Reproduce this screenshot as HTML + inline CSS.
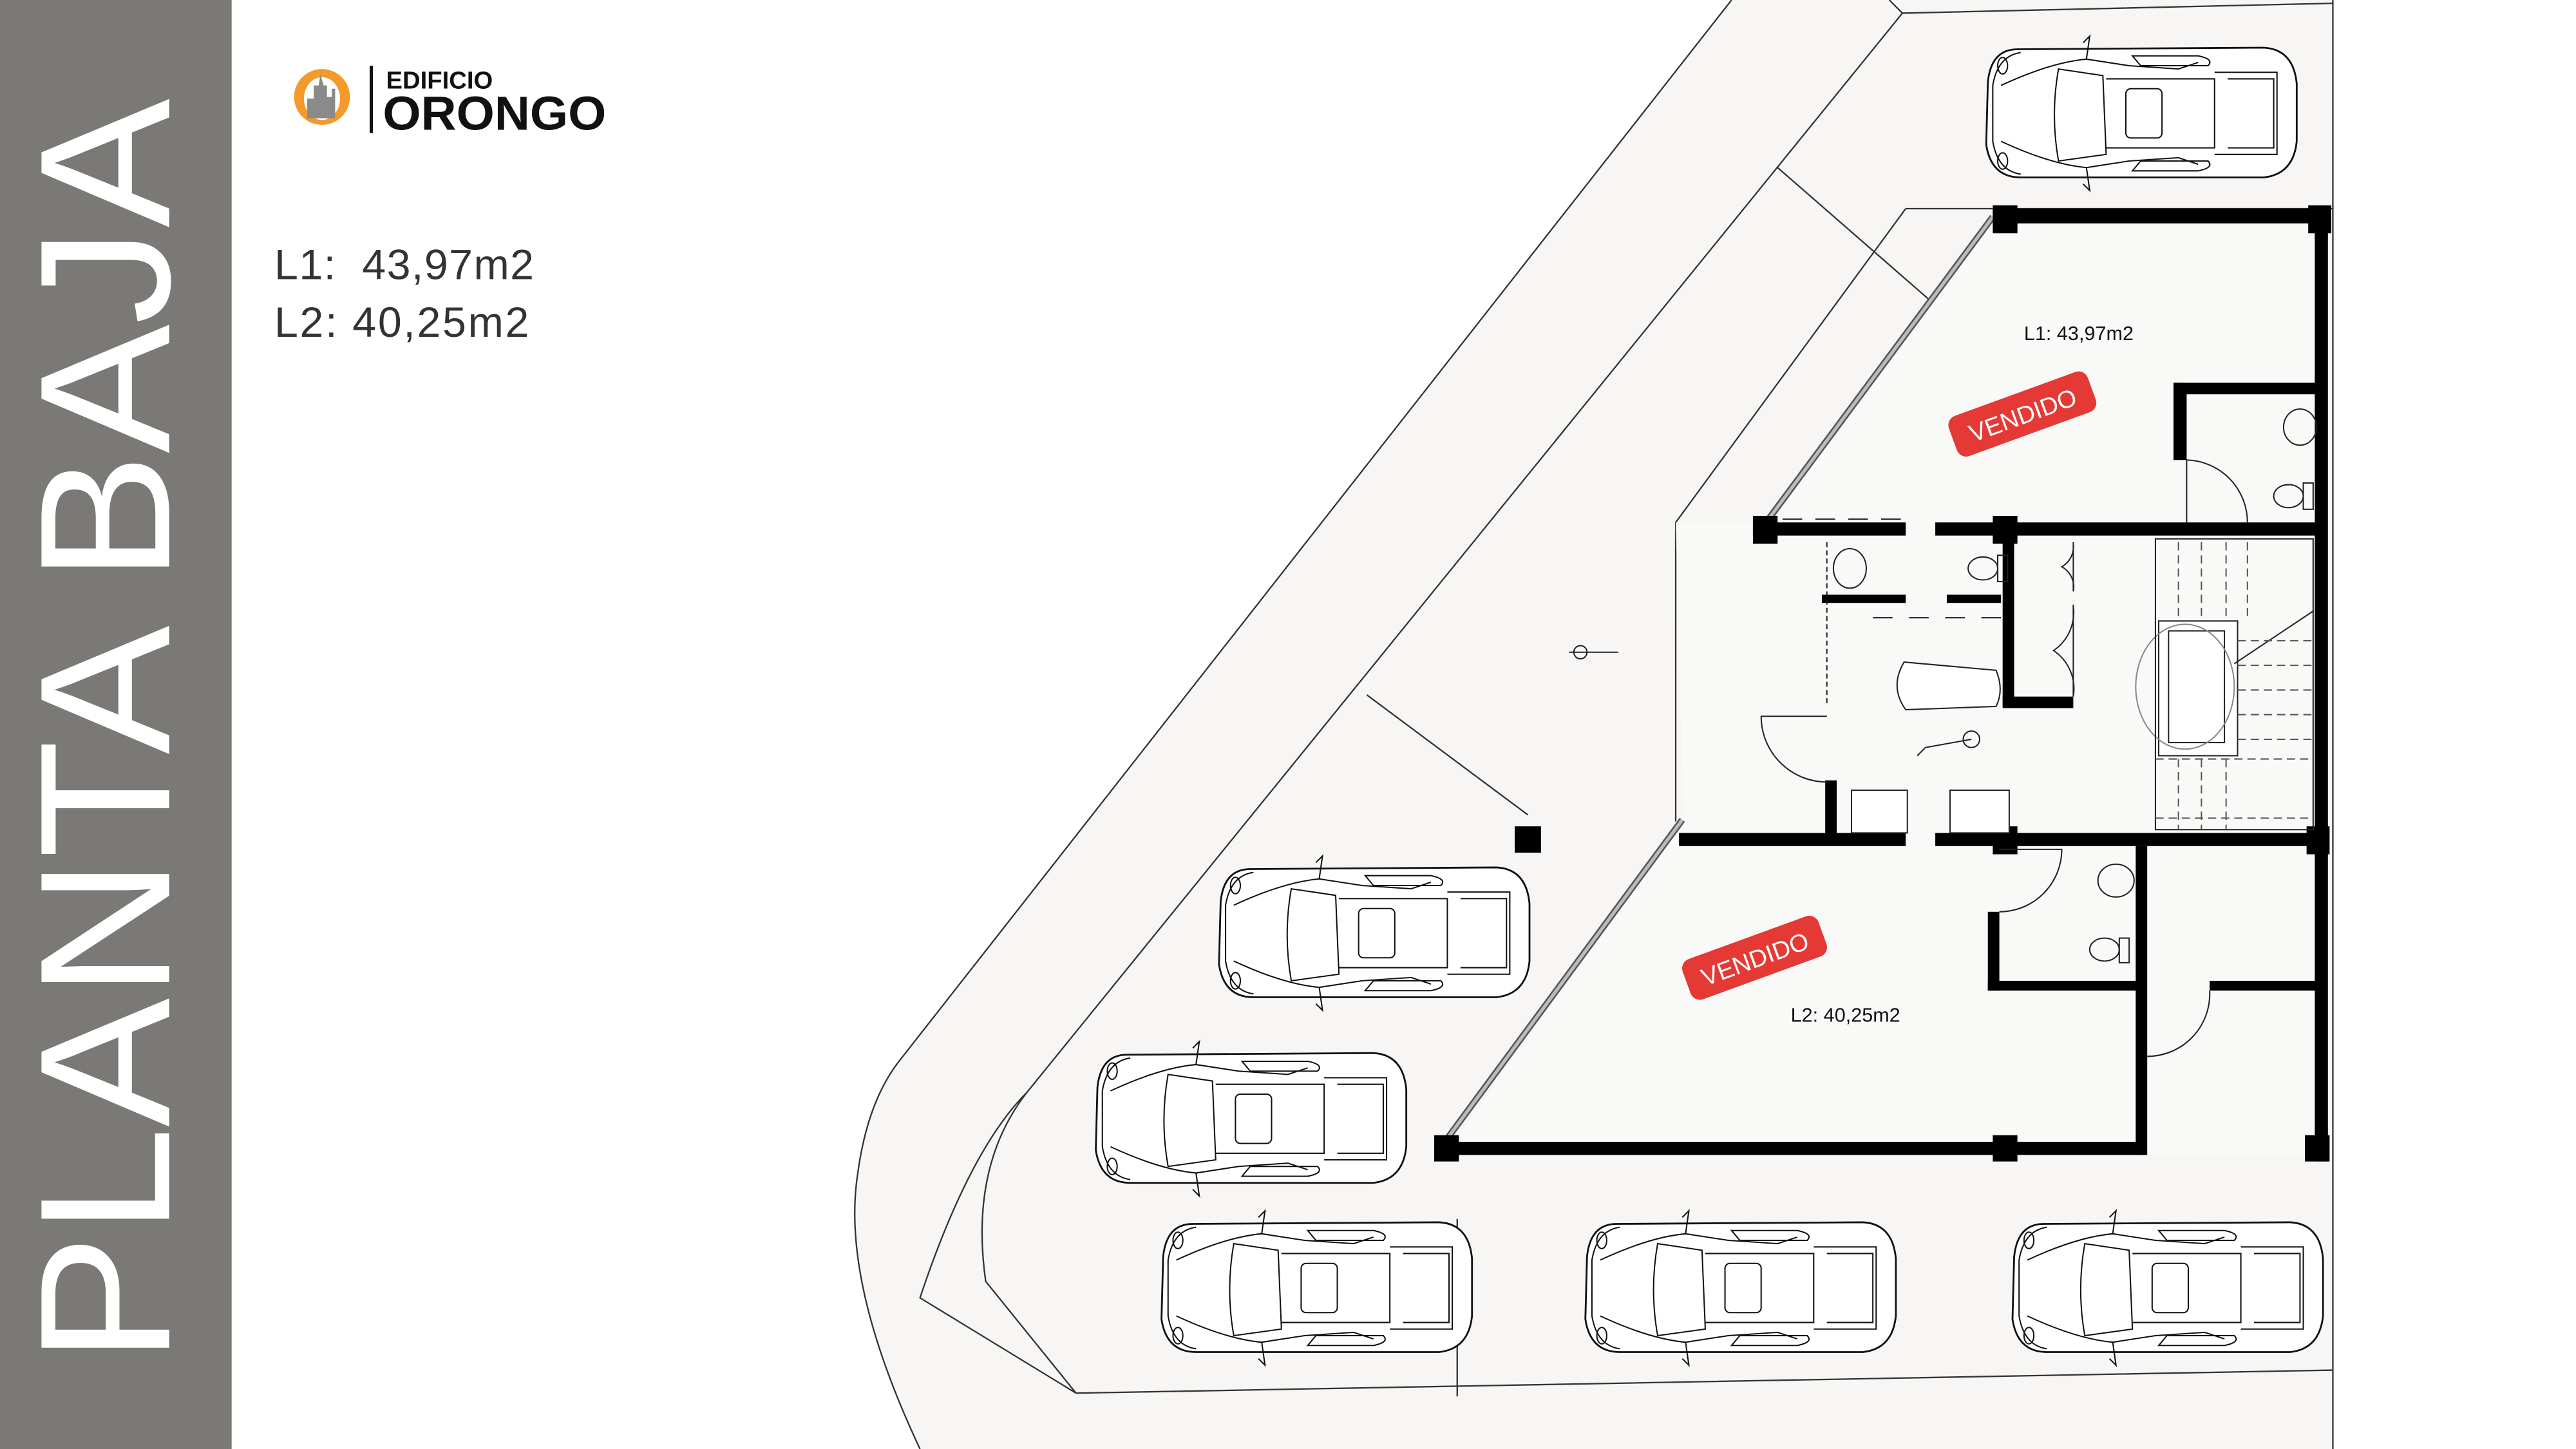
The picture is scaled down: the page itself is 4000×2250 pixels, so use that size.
<!DOCTYPE html>
<html><head><meta charset="utf-8"><style>
html,body{margin:0;padding:0;background:#fff}
svg{display:block}
</style></head><body>
<svg width="4000" height="2250" viewBox="0 0 1568 882" xmlns="http://www.w3.org/2000/svg" font-family="Liberation Sans, sans-serif">
<defs>
<g id="car" fill="none" stroke="#111" stroke-width="0.8">
  <path d="M20,4 Q4,4 2,24 L1,62 Q4,82 22,82 L170,82 Q188,80 190,60 L190,25 Q188,4 170,3 Z" fill="#fff" stroke-width="1.1"/>
  <path d="M22,6 Q8,8 5,26 L5,60 Q8,78 22,80"/>
  <path d="M10,26 Q40,12 62,10 L88,14 L118,16 L130,12"/>
  <path d="M10,60 Q40,74 62,76 L88,72 L118,70 L130,74"/>
  <path d="M45,16 L72,20 L74,68 L45,72 Q40,44 45,16 Z"/>
  <path d="M74,22 L140,22 L140,64 L74,64"/>
  <rect x="86" y="28" width="22" height="30" rx="3"/>
  <path d="M140,18 L178,18 L178,68 L140,68"/>
  <path d="M148,22 L176,22 L176,64 L148,64"/>
  <path d="M60,0 L64,-4 L62,10 M60,86 L64,90 L62,76"/>
  <ellipse cx="11" cy="14" rx="3" ry="5"/><ellipse cx="11" cy="72" rx="3" ry="5"/>
  <path d="M90,8 L130,8 Q140,10 136,14 L95,14 Z M90,78 L130,78 Q140,76 136,72 L95,72 Z"/>
</g>
</defs>
<rect width="1568" height="882" fill="#fff"/>
<path d="M1054,0 L1420,0 L1420,882 L560,882 Q512,780 522,715 Q528,670 548,645 Z" fill="#f7f6f5"/>
<g fill="none" stroke="#333" stroke-width="0.9">
  <path d="M1054,0 L548,645 Q528,670 522,715 Q512,780 560,882"/>
  <path d="M1150,0 L1158,8 L1420,2"/>
  <path d="M1158,8 L625,665 Q590,700 560,790 L655,848 L1420,834"/>
  <path d="M625,665 Q590,710 600,780 L655,848"/>
  <line x1="1420" y1="0" x2="1420" y2="882"/>
  <line x1="887" y1="742" x2="887" y2="850"/>
  <path d="M1160,127 L1020,318 L1020,500"/>
  <line x1="1160" y1="127" x2="1420" y2="127"/>
  <line x1="1082" y1="102" x2="1183" y2="190"/>
  <line x1="832" y1="423" x2="930" y2="496"/>
</g>
<rect x="922" y="503" width="16" height="16" fill="#000"/>
<use href="#car" transform="translate(1208,26)"/>
<use href="#car" transform="translate(741,525)"/>
<use href="#car" transform="translate(666,638)"/>
<use href="#car" transform="translate(706,741)"/>
<use href="#car" transform="translate(964,741)"/>
<use href="#car" transform="translate(1224,741)"/>
<path d="M1213,130 L1410,130 L1410,703 L880,703 L1025,497 L1020,318 L1075,318 Z" fill="#f9f9f8"/>
<g stroke="#555" stroke-width="4" fill="none"><line x1="1075" y1="318" x2="1213" y2="132"/><line x1="878" y1="697" x2="1024" y2="499"/></g>
<g stroke="#bbb" stroke-width="2" fill="none"><line x1="1075" y1="318" x2="1213" y2="132"/><line x1="878" y1="697" x2="1024" y2="499"/></g>
<g fill="#000">
  <rect x="1213" y="127" width="205" height="9"/>
  <rect x="1213" y="125" width="15" height="17"/><rect x="1405" y="125" width="14" height="17"/>
  <rect x="1409" y="127" width="8" height="580"/>
  <rect x="1067" y="318" width="93" height="8"/><rect x="1178" y="318" width="232" height="8"/>
  <rect x="1067" y="314" width="15" height="17"/><rect x="1213" y="314" width="15" height="17"/>
  <rect x="1323" y="233" width="8" height="47"/><rect x="1323" y="233" width="87" height="7"/>
  <rect x="1109" y="362" width="51" height="5"/><rect x="1185" y="362" width="33" height="5"/>
  <rect x="1219" y="326" width="7" height="104"/><rect x="1219" y="424" width="43" height="7"/>
  <rect x="1111" y="475" width="7" height="35"/>
  <rect x="1022" y="507" width="138" height="8"/><rect x="1178" y="507" width="232" height="8"/>
  <rect x="1213" y="503" width="15" height="17"/><rect x="1404" y="503" width="14" height="17"/>
  <rect x="1210" y="555" width="7" height="48"/><rect x="1210" y="597" width="92" height="6"/>
  <rect x="1300" y="515" width="7" height="188"/>
  <rect x="1345" y="597" width="65" height="6"/>
  <rect x="873" y="695" width="432" height="8"/>
  <rect x="873" y="691" width="15" height="16"/><rect x="1213" y="691" width="15" height="16"/><rect x="1403" y="691" width="15" height="16"/>
</g>
<g fill="none" stroke="#222" stroke-width="0.8">
  <path d="M1331,280 A38,38 0 0 1 1368,318"/><line x1="1331" y1="280" x2="1331" y2="318"/>
  <path d="M1112,476 A40,40 0 0 1 1072,436 L1112,436"/>
  <path d="M1217,555 A38,38 0 0 0 1255,517 L1217,517"/>
  <path d="M1307,643 A38,38 0 0 0 1345,603"/>
  <path d="M1262,330 L1262,360 M1262,331 A14,14 0 0 1 1255,345 A14,14 0 0 1 1262,360"/>
  <path d="M1262,368 L1262,424 M1262,369 A28,28 0 0 1 1250,396 A28,28 0 0 1 1262,424"/>
  <ellipse cx="1126" cy="346" rx="10" ry="12"/><ellipse cx="1207" cy="346" rx="9" ry="7"/><rect x="1216" y="338" width="6" height="16"/>
  <ellipse cx="1400" cy="260" rx="10" ry="11"/><ellipse cx="1393" cy="302" rx="9" ry="7"/><rect x="1402" y="294" width="6" height="16"/>
  <ellipse cx="1288" cy="536" rx="11" ry="10"/><ellipse cx="1281" cy="578" rx="9" ry="7"/><rect x="1290" y="571" width="6" height="15"/>
  <path d="M1159,403 L1215,408 Q1220,420 1215,430 L1160,432 Q1150,418 1159,403 Z" fill="#fff"/>
  <rect x="1127" y="481" width="34" height="26" fill="#fff"/><rect x="1187" y="481" width="36" height="26" fill="#fff"/>
  <line x1="1112" y1="330" x2="1112" y2="430" stroke-dasharray="3,2"/>
  <line x1="1140" y1="376" x2="1218" y2="376" stroke-dasharray="12,10"/>
  <line x1="1085" y1="316" x2="1160" y2="316" stroke-dasharray="12,8"/>
  <path d="M1200,450 L1172,455 M1172,455 L1167,460"/><circle cx="1200" cy="450" r="5"/>
  <circle cx="962" cy="397" r="4"/><line x1="955" y1="397" x2="985" y2="397"/>
  <rect x="1314" y="378" width="48" height="82" fill="#fff"/><rect x="1320" y="384" width="34" height="68"/>
  <ellipse cx="1330" cy="418" rx="30" ry="38" stroke="#888"/>
  <line x1="1360" y1="404" x2="1408" y2="372"/>
  <rect x="1312" y="328" width="96" height="177"/>
  <g stroke-dasharray="5,3" stroke="#555"><line x1="1362" y1="390" x2="1408" y2="390"/><line x1="1362" y1="405" x2="1408" y2="405"/><line x1="1362" y1="420" x2="1408" y2="420"/><line x1="1362" y1="435" x2="1408" y2="435"/><line x1="1362" y1="450" x2="1408" y2="450"/><line x1="1312" y1="462" x2="1408" y2="462"/><line x1="1312" y1="498" x2="1408" y2="498"/>
  <line x1="1326" y1="330" x2="1326" y2="378"/><line x1="1340" y1="330" x2="1340" y2="378"/><line x1="1355" y1="330" x2="1355" y2="378"/><line x1="1368" y1="330" x2="1368" y2="378"/>
  <line x1="1326" y1="462" x2="1326" y2="505"/><line x1="1340" y1="462" x2="1340" y2="505"/><line x1="1355" y1="462" x2="1355" y2="505"/></g>
</g>
<text x="1232" y="207" font-size="12" fill="#111">L1: 43,97m2</text>
<text x="1090" y="622" font-size="12" fill="#111">L2: 40,25m2</text>
<g transform="translate(1231,252) rotate(-20)"><rect x="-45" y="-13" width="90" height="26" rx="6" fill="#e53935"/><text x="0" y="6" font-size="15" fill="#fff" text-anchor="middle">VENDIDO</text></g>
<g transform="translate(1068,583) rotate(-20)"><rect x="-44" y="-13" width="88" height="26" rx="6" fill="#e53935"/><text x="0" y="6" font-size="15" fill="#fff" text-anchor="middle">VENDIDO</text></g>
<rect x="0" y="0" width="141" height="882" fill="#7a7976"/>
<text transform="translate(103,830) rotate(-90)" font-size="113" fill="#fff" textLength="770" lengthAdjust="spacingAndGlyphs">PLANTA BAJA</text>
<ellipse cx="196" cy="59" rx="17" ry="17" fill="#f39a2b"/>
<ellipse cx="196" cy="60" rx="11" ry="13" fill="#fff"/>
<path d="M187,72 L187,60 L191,60 L191,52 L194,52 L195,45 L197,52 L199,52 L199,59 L202,59 L202,54 L204,54 L204,72 Z" fill="#8a8a8a"/>
<rect x="225" y="40" width="2" height="41" fill="#111"/>
<text x="235" y="54" font-size="15" font-weight="bold" fill="#111">EDIFICIO</text>
<text x="233" y="79" font-size="29" font-weight="bold" fill="#111" textLength="136" lengthAdjust="spacingAndGlyphs">ORONGO</text>
<text x="167" y="170" font-size="26" fill="#333" textLength="158" lengthAdjust="spacing" xml:space="preserve">L1:  43,97m2</text>
<text x="167" y="205" font-size="26" fill="#333" textLength="155" lengthAdjust="spacing">L2: 40,25m2</text>
</svg>
</body></html>
